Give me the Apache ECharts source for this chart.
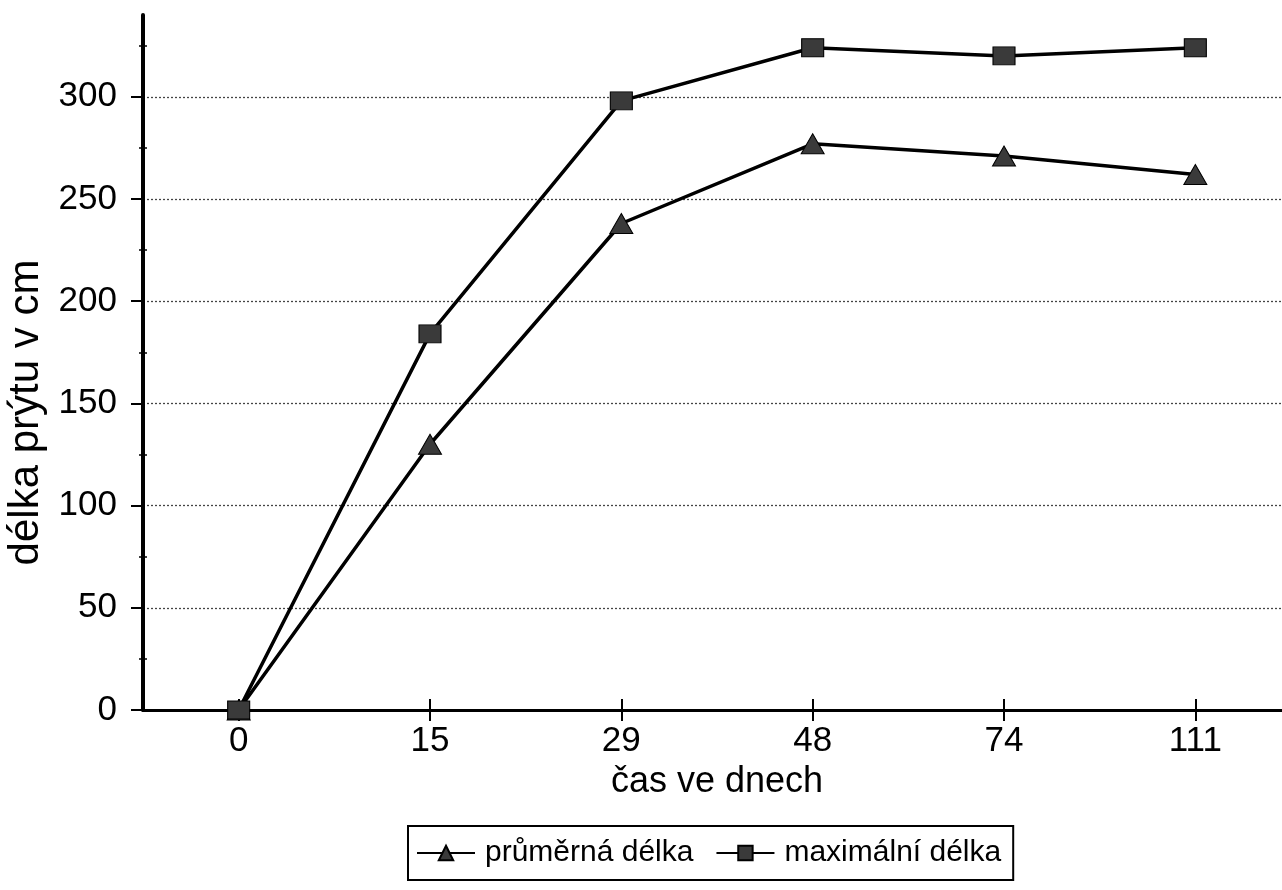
<!DOCTYPE html>
<html><head><meta charset="utf-8">
<script src="https://cdn.jsdelivr.net/npm/echarts@6/dist/echarts.min.js"></script>
<style>html,body{margin:0;padding:0;background:#fff}#c{width:1282px;height:890px}</style>
</head><body><div id="c"></div>
<script>
const categories = ['0', '15', '29', '48', '74', '111'];
const prumerna = [0, 130, 238, 277, 271, 262];
const maximalni = [0, 184, 298, 324, 320, 324];
const yTicks = [0, 50, 100, 150, 200, 250, 300];
const yMinorTicks = [25, 75, 125, 175, 225, 275, 325];
const seriesNames = ['průměrná délka', 'maximální délka'];
const xName = 'čas ve dnech';
const yName = 'délka prýtu v cm';

const FONT = "'Liberation Sans', Arial, sans-serif";
const chart = echarts.init(document.getElementById('c'), null, {renderer: 'canvas'});
const gridColor = '#444';
chart.setOption({
  animation: false,
  backgroundColor: '#fff',
  textStyle: {fontFamily: FONT, color: '#000'},
  grid: {left: 143, top: 15, bottom: 180, width: 1148, containLabel: false, outerBoundsMode: 'none'},
  xAxis: [{
    type: 'category', data: categories, gridIndex: 0, position: 'bottom',
    axisLine: {show: true, lineStyle: {color: '#000', width: 3}},
    axisTick: {show: true, alignWithLabel: true, length: 11, lineStyle: {color: '#000', width: 2}},
    axisLabel: {fontSize: 35, color: '#000', margin: 14, fontFamily: FONT},
    splitLine: {show: false},
    name: xName, nameLocation: 'middle', nameGap: 44,
    nameTextStyle: {fontSize: 36, color: '#000', fontFamily: FONT}
  }, {
    type: 'category', data: categories, gridIndex: 0, position: 'bottom',
    axisLine: {show: false},
    axisTick: {show: true, inside: true, alignWithLabel: true, length: 11, lineStyle: {color: '#000', width: 2}},
    axisLabel: {show: false}, splitLine: {show: false}
  }],
  yAxis: [{
    type: 'value', min: 0, max: 340, interval: 50, position: 'left',
    axisLine: {show: true, lineStyle: {color: '#000', width: 4}},
    axisTick: {show: true, customValues: yTicks, length: 12, lineStyle: {color: '#000', width: 2}},
    axisLabel: {customValues: yTicks, fontSize: 35, color: '#000', margin: 26, fontFamily: FONT},
    splitLine: {show: true, lineStyle: {type: [2, 2], width: 1.3,
      color: [gridColor, gridColor, gridColor, gridColor, gridColor, gridColor, gridColor, 'rgba(0,0,0,0)']}},
    name: yName, nameLocation: 'middle', nameGap: 96, nameRotate: 90,
    nameTextStyle: {fontSize: 42, color: '#000', fontFamily: FONT, padding: [0, 100, 0, 0]}
  }, {
    type: 'value', min: 0, max: 340, interval: 50, position: 'left', offset: -4,
    axisLine: {show: false},
    axisTick: {show: true, customValues: yMinorTicks, length: 8, lineStyle: {color: '#000', width: 1.5}},
    axisLabel: {show: false}, splitLine: {show: false}
  }],
  legend: {
    show: true, left: 408, top: 826, orient: 'horizontal',
    padding: [12, 12, 12, 8], itemGap: 22, itemWidth: 58, itemHeight: 18,
    textStyle: {fontSize: 30, color: '#000', fontFamily: FONT, padding: [0, 0, 0, 5]},
    borderColor: '#000', borderWidth: 2, backgroundColor: '#fff',
    selectedMode: false,
    data: seriesNames
  },
  series: [{
    name: seriesNames[0], type: 'line', data: prumerna, xAxisIndex: 0, yAxisIndex: 0,
    symbol: 'triangle', symbolSize: [23, 20],
    itemStyle: {color: '#3a3a3a', borderColor: '#000', borderWidth: 1},
    lineStyle: {color: '#000', width: 3.5}, z: 3
  }, {
    name: seriesNames[1], type: 'line', data: maximalni, xAxisIndex: 0, yAxisIndex: 0,
    symbol: 'rect', symbolSize: [22, 18],
    itemStyle: {color: '#3a3a3a', borderColor: '#000', borderWidth: 1},
    lineStyle: {color: '#000', width: 3.5}, z: 4
  }]
});
</script></body></html>
